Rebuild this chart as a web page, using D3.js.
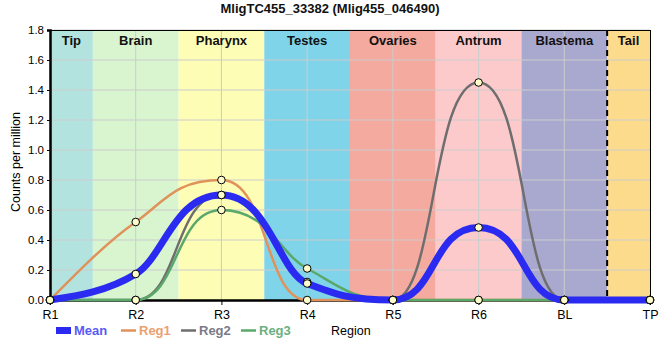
<!DOCTYPE html>
<html><head><meta charset="utf-8">
<script src="https://cdn.jsdelivr.net/npm/d3@7"></script>
<style>body{margin:0;background:#fff}svg{font-family:"Liberation Sans",Arial,sans-serif}</style>
</head><body>
<svg id="c" width="660" height="360"></svg>
<script>
const title = "MligTC455_33382 (Mlig455_046490)";
const categories = ["R1","R2","R3","R4","R5","R6","BL","TP"];
const reg1 = [0, 0.52, 0.80, 0, 0, 0, 0, 0];
const reg2 = [0, 0, 0.70, 0.12, 0, 1.45, 0, 0];
const reg3 = [0, 0, 0.60, 0.21, 0, 0, 0, 0];
const mean = categories.map((c,i)=>(reg1[i]+reg2[i]+reg3[i])/3);
const regions = ["Tip","Brain","Pharynx","Testes","Ovaries","Antrum","Blastema","Tail"];
const regionStart = [0, 0.5, 1.5, 2.5, 3.5, 4.5, 5.5, 6.5];
const regionEnd = [0.5, 1.5, 2.5, 3.5, 4.5, 5.5, 6.5, 7];
const regionColors = ["#b3e3df","#d8f5d0","#fdfdb6","#7fd4ea","#f4aa9e","#fdcacb","#a9a8cf","#fddb8c"];
const yTicks = [0,0.2,0.4,0.6,0.8,1.0,1.2,1.4,1.6,1.8];

const svg = d3.select("#c");
const L=50, R=650, T=30, B=300;
const x = d3.scaleLinear().domain([0,7]).range([L,R]);
const y = d3.scaleLinear().domain([0,1.8]).range([B,T]);

svg.append("text").attr("x",330).attr("y",13).attr("text-anchor","middle")
  .attr("font-weight","bold").attr("font-size",13).attr("fill","#111").text(title);

svg.selectAll("rect.band").data(regions).enter().append("rect")
  .attr("x",(d,i)=>x(regionStart[i])).attr("width",(d,i)=>x(regionEnd[i])-x(regionStart[i]))
  .attr("y",T).attr("height",B-T).attr("fill",(d,i)=>regionColors[i]);

svg.selectAll("line.gy").data(yTicks.slice(1)).enter().append("line")
  .attr("x1",L).attr("x2",R).attr("y1",d=>y(d)).attr("y2",d=>y(d)).attr("stroke","#cccccc").attr("stroke-width",1);
svg.selectAll("line.gx").data(categories.slice(1,7)).enter().append("line")
  .attr("x1",(d,i)=>x(i+1)).attr("x2",(d,i)=>x(i+1)).attr("y1",T).attr("y2",B).attr("stroke","#cccccc").attr("stroke-width",1);

svg.selectAll("text.band").data(regions).enter().append("text")
  .attr("x",(d,i)=>(x(regionStart[i])+x(regionEnd[i]))/2).attr("y",T+14.5)
  .attr("text-anchor","middle").attr("font-weight","bold").attr("font-size",13).attr("fill","#111").text(d=>d);

svg.append("line").attr("x1",x(6.5)).attr("x2",x(6.5)).attr("y1",T).attr("y2",B)
  .attr("stroke","#000").attr("stroke-width",2).attr("stroke-dasharray","6,4");

svg.append("line").attr("x1",L).attr("x2",R).attr("y1",T+0.5).attr("y2",T+0.5).attr("stroke","#000");
svg.append("line").attr("x1",R+0.5).attr("x2",R+0.5).attr("y1",T).attr("y2",B).attr("stroke","#000");

const yAxis = svg.append("g").attr("transform",`translate(${L},0)`)
  .call(d3.axisLeft(y).tickValues(yTicks).tickFormat(d3.format(".1f")).tickSize(3));
yAxis.select(".domain").attr("stroke-width",2.5);
yAxis.selectAll("text").attr("font-size",11.5).attr("fill","#000").attr("font-family","Liberation Sans, Arial");
const xAxis = svg.append("g").attr("transform",`translate(0,${B})`)
  .call(d3.axisBottom(x).tickValues(d3.range(8)).tickFormat(i=>categories[i]).tickSize(5).tickSizeOuter(0));
xAxis.select(".domain").attr("stroke-width",2.5);
xAxis.selectAll("text").attr("font-size",12.5).attr("fill","#000").attr("dy","0.85em").attr("font-family","Liberation Sans, Arial");

svg.append("text").attr("transform","translate(20,162) rotate(-90)").attr("text-anchor","middle")
  .attr("font-size",12.5).attr("fill","#000").text("Counts per million");
svg.append("text").attr("x",331).attr("y",335).attr("font-size",12.5).attr("fill","#000").text("Region");

// smooth path: monotone tangents, long handles at extrema (cubic Bezier)
function smoothPath(vals){
  const n = vals.length, s = [], m = [];
  for (let i=0;i<n-1;i++) s.push(vals[i+1]-vals[i]);
  for (let i=1;i<n-1;i++){
    const a=s[i-1], b=s[i];
    m[i] = (Math.sign(a)+Math.sign(b)) * Math.min(Math.abs(a),Math.abs(b),0.25*Math.abs(a+b));
  }
  m[0] = (3*s[0]-m[1])/2;
  m[n-1] = (3*s[n-2]-m[n-2])/2;
  const hand = vals.map((v,i)=>{
    if (i===0||i===n-1) return 1/3;
    if (v>vals[i-1] && v>vals[i+1]) return 0.55;
    if (v<=vals[i-1] && v<=vals[i+1]) return 0.5;
    return 1/3;
  });
  const p = d3.path();
  p.moveTo(x(0), y(vals[0]));
  for (let i=0;i<n-1;i++){
    const c1=hand[i], c2=hand[i+1];
    p.bezierCurveTo(x(i+c1), y(vals[i]+m[i]*c1), x(i+1-c2), y(vals[i+1]-m[i+1]*c2), x(i+1), y(vals[i+1]));
  }
  return p.toString();
}

const series = [
  {name:"Reg1", vals:reg1, color:"#e0925a", w:2.5, tc:"#eca070"},
  {name:"Reg2", vals:reg2, color:"#6e6e6e", w:2.5, tc:"#7a7a88"},
  {name:"Reg3", vals:reg3, color:"#5aa86a", w:2.5, tc:"#6bb07e"},
  {name:"Mean", vals:mean, color:"#2a2af0", w:7, tc:"#5a5af5"}
];
const g = svg.append("g");
series.forEach(s=>{
  g.append("path").attr("d",smoothPath(s.vals)).attr("fill","none").attr("stroke",s.color)
   .attr("stroke-width",s.w).attr("stroke-linecap","round").attr("stroke-linejoin","round");
});
series.forEach(s=>{
  g.selectAll(null).data(s.vals).enter().append("circle")
   .attr("cx",(d,i)=>x(i)).attr("cy",d=>y(d)).attr("r",3.8)
   .attr("fill","#fdfdcc").attr("stroke","#000").attr("stroke-width",1);
});

const legOrder = ["Mean","Reg1","Reg2","Reg3"];
const legX = [56, 121, 181, 241];
legOrder.forEach((n,k)=>{
  const s = series.find(v=>v.name===n);
  svg.append("line").attr("x1",legX[k]).attr("x2",legX[k]+15).attr("y1",330.5).attr("y2",330.5)
    .attr("stroke",s.color).attr("stroke-width",n==="Mean"?7:2.5);
  svg.append("text").attr("x",legX[k]+18).attr("y",335).attr("font-size",13).attr("font-weight","bold")
    .attr("fill",s.tc).text(n);
});
</script>
</body></html>
